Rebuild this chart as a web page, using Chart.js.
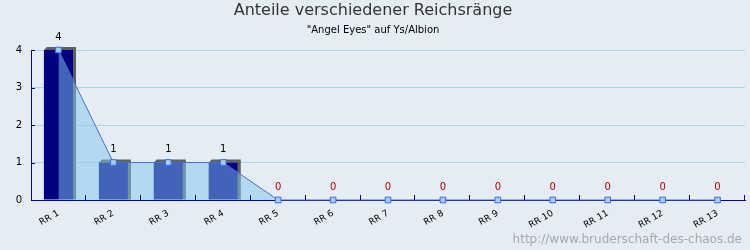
<!DOCTYPE html>
<html>
<head>
<meta charset="utf-8">
<script src="https://cdn.jsdelivr.net/npm/chart.js@4/dist/chart.umd.min.js"></script>
<style>
  html, body { margin: 0; padding: 0; background: #e5ecf4; }
  canvas { display: block; background: #e5ecf4; }
</style>
</head>
<body>
<canvas id="rankChart" width="750" height="250"></canvas>
<script>
const ranks = ["RR 1", "RR 2", "RR 3", "RR 4", "RR 5", "RR 6", "RR 7", "RR 8", "RR 9", "RR 10", "RR 11", "RR 12", "RR 13"];
const counts = [4, 1, 1, 1, 0, 0, 0, 0, 0, 0, 0, 0, 0];
const yTicks = [0, 1, 2, 3, 4];

const axisBlue = "#0000a0";
const font = "'DejaVu Sans', Verdana, sans-serif";

// grey 3d sides behind the bars
const barDepth = {
  id: "barDepth",
  beforeDatasetDraw(chart, args) {
    if (args.meta.type !== "bar") return;
    const ctx = chart.ctx;
    const d = 3;
    ctx.save();
    ctx.fillStyle = "#606060";
    args.meta.data.forEach((bar, i) => {
      if (!counts[i]) return;
      const left = bar.x - bar.width / 2;
      const right = bar.x + bar.width / 2;
      ctx.beginPath();
      ctx.moveTo(left, bar.y);
      ctx.lineTo(left + d, bar.y - d);
      ctx.lineTo(right + d, bar.y - d);
      ctx.lineTo(right + d, bar.base);
      ctx.lineTo(right, bar.base);
      ctx.lineTo(right, bar.y);
      ctx.closePath();
      ctx.fill();
    });
    ctx.restore();
  },
};

// small inner tick marks, value labels and the site name
const extras = {
  id: "extras",
  afterDatasetsDraw(chart) {
    const ctx = chart.ctx;
    const area = chart.chartArea;
    const y = chart.scales.y;
    ctx.save();
    ctx.strokeStyle = axisBlue;
    ctx.lineWidth = 1;
    ctx.beginPath();
    yTicks.forEach((v) => {
      const py = Math.round(y.getPixelForValue(v)) + 0.5;
      ctx.moveTo(area.left, py);
      ctx.lineTo(area.left + 4, py);
    });
    const step = (area.right - area.left) / ranks.length;
    for (let i = 1; i <= ranks.length; i++) {
      const px = Math.round(area.left + i * step) - 0.5;
      ctx.moveTo(px, area.bottom);
      ctx.lineTo(px, area.bottom - 5);
    }
    ctx.stroke();

    const meta = chart.getDatasetMeta(0);
    ctx.font = "10px " + font;
    ctx.textAlign = "center";
    ctx.textBaseline = "middle";
    meta.data.forEach((pt, i) => {
      ctx.fillStyle = counts[i] === 0 ? "#b00000" : "#000000";
      ctx.fillText(String(counts[i]), pt.x, pt.y - 13);
    });
    ctx.restore();
  },
  afterDraw(chart) {
    const ctx = chart.ctx;
    ctx.save();
    ctx.font = "12px " + font;
    ctx.fillStyle = "#a8a8a8";
    ctx.textAlign = "right";
    ctx.textBaseline = "alphabetic";
    ctx.fillText("http://www.bruderschaft-des-chaos.de", chart.width - 8, chart.height - 7);
    ctx.restore();
  },
};

new Chart(document.getElementById("rankChart"), {
  data: {
    labels: ranks,
    datasets: [
      {
        type: "line",
        data: counts,
        order: 1,
        borderColor: "#4a6fd0",
        borderWidth: 1,
        backgroundColor: "rgba(130, 198, 240, 0.5)",
        fill: "origin",
        tension: 0,
        pointStyle: "rect",
        pointRadius: 4,
        pointBackgroundColor: "#a6cdef",
        pointBorderColor: "#3f6ae6",
        pointBorderWidth: 1,
        clip: false,
      },
      {
        type: "bar",
        data: counts,
        order: 2,
        backgroundColor: "#000080",
        borderWidth: 0,
        categoryPercentage: 1,
        barPercentage: 0.53,
      },
    ],
  },
  options: {
    responsive: false,
    animation: false,
    devicePixelRatio: 1,
    layout: {
      padding: { top: 0, left: 0, right: 4, bottom: 0 },
    },
    scales: {
      x: {
        offset: true,
        grid: { display: false, drawTicks: false },
        border: { display: true, color: axisBlue, width: 1 },
        ticks: {
          autoSkip: false,
          maxRotation: 30,
          minRotation: 30,
          padding: 8,
          color: "#000000",
          font: { family: font, size: 9 },
        },
        afterFit: (scale) => { scale.height = 50; },
      },
      y: {
        min: 0,
        max: 4,
        grid: { color: "#a8d8e8", drawTicks: false },
        border: { display: true, color: axisBlue, width: 1 },
        ticks: {
          stepSize: 1,
          padding: 9,
          color: "#000000",
          font: { family: font, size: 10 },
        },
        afterFit: (scale) => { scale.width = 31; },
      },
    },
    plugins: {
      legend: { display: false },
      tooltip: { enabled: false },
      title: {
        display: true,
        text: "Anteile verschiedener Reichsränge",
        color: "#333333",
        font: { family: font, size: 16, weight: "normal", lineHeight: 1 },
        padding: { top: 3, bottom: 0 },
      },
      subtitle: {
        display: true,
        text: "\"Angel Eyes\" auf Ys/Albion",
        color: "#000000",
        font: { family: font, size: 10, lineHeight: 1 },
        padding: { top: 6, bottom: 15 },
      },
    },
  },
  plugins: [barDepth, extras],
});
</script>
</body>
</html>
